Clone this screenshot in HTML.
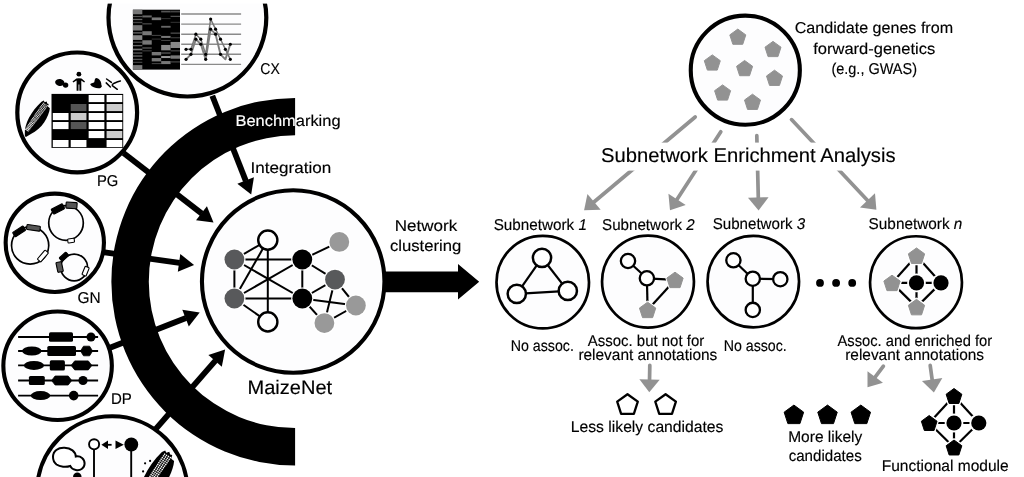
<!DOCTYPE html>
<html lang="en"><head><meta charset="utf-8"><title>MaizeNet network-assisted gene prioritization</title>
<style>html,body{margin:0;padding:0;background:#fff;}body{width:1024px;height:477px;overflow:hidden;}svg{display:block;will-change:transform;text-rendering:geometricPrecision;}text{stroke:#000;stroke-width:0.15px;}text[fill="#fff"]{stroke:#fff;}svg{font-family:"Liberation Sans",sans-serif;}</style></head><body>
<svg width="1024" height="477" viewBox="0 0 1024 477">
<rect width="1024" height="477" fill="#fff"/>
<line x1="212.3" y1="95.8" x2="245.81" y2="180.92" stroke="#000" stroke-width="5.8" stroke-linecap="butt"/>
<polygon points="251.2,194.6 237.35,183.72 253.91,177.2" fill="#000"/>
<line x1="123.5" y1="153" x2="201.87" y2="213.61" stroke="#000" stroke-width="5.8" stroke-linecap="butt"/>
<polygon points="213.5,222.6 196.03,220.34 206.92,206.26" fill="#000"/>
<line x1="103" y1="252.2" x2="179.54" y2="262.95" stroke="#000" stroke-width="5.8" stroke-linecap="butt"/>
<polygon points="194.1,265 177.81,271.7 180.29,254.07" fill="#000"/>
<line x1="110" y1="347.8" x2="186.02" y2="317.97" stroke="#000" stroke-width="5.8" stroke-linecap="butt"/>
<polygon points="199.7,312.6 188.8,326.44 182.3,309.87" fill="#000"/>
<line x1="155" y1="429.9" x2="215.44" y2="360.58" stroke="#000" stroke-width="5.8" stroke-linecap="butt"/>
<polygon points="225.1,349.5 221.82,366.81 208.4,355.11" fill="#000"/>
<defs><clipPath id="arcclip"><path d="M295.1,97.9 A183.8,183.8 0 0 0 295.1,465.5 L295.1,428.05 A146.35,146.35 0 0 1 295.1,135.35 Z"/></clipPath></defs>
<path d="M295.1,97.9 A183.8,183.8 0 0 0 295.1,465.5 L295.1,428.05 A146.35,146.35 0 0 1 295.1,135.35 Z" fill="#000"/>
<polygon points="380,271.4 458,271.4 458,264 479.2,281.8 458,299.6 458,292.2 380,292.2" fill="#000"/>
<circle cx="293.2" cy="281.5" r="91.25" fill="#fdfdfe" stroke="#000" stroke-width="4.1"/>
<line x1="267.8" y1="240.1" x2="234.4" y2="259.5" stroke="#000" stroke-width="2" />
<line x1="267.8" y1="240.1" x2="234.4" y2="298.5" stroke="#000" stroke-width="2" />
<line x1="267.8" y1="240.1" x2="267.8" y2="321.9" stroke="#000" stroke-width="2" />
<line x1="234.4" y1="259.5" x2="234.4" y2="298.5" stroke="#000" stroke-width="2" />
<line x1="234.4" y1="259.5" x2="302.3" y2="259.5" stroke="#000" stroke-width="2" />
<line x1="234.4" y1="259.5" x2="302.3" y2="298.5" stroke="#000" stroke-width="2" />
<line x1="234.4" y1="298.5" x2="302.3" y2="259.5" stroke="#000" stroke-width="2" />
<line x1="234.4" y1="298.5" x2="302.3" y2="298.5" stroke="#000" stroke-width="2" />
<line x1="234.4" y1="298.5" x2="267.8" y2="321.9" stroke="#000" stroke-width="2" />
<line x1="302.3" y1="259.5" x2="302.3" y2="298.5" stroke="#000" stroke-width="2" />
<line x1="302.3" y1="259.5" x2="339.3" y2="241.9" stroke="#000" stroke-width="2" />
<line x1="302.3" y1="259.5" x2="335" y2="279.6" stroke="#000" stroke-width="2" />
<line x1="302.3" y1="298.5" x2="335" y2="279.6" stroke="#000" stroke-width="2" />
<line x1="302.3" y1="298.5" x2="355.9" y2="305.5" stroke="#000" stroke-width="2" />
<line x1="302.3" y1="298.5" x2="324.4" y2="323.1" stroke="#000" stroke-width="2" />
<line x1="335" y1="279.6" x2="355.9" y2="305.5" stroke="#000" stroke-width="2" />
<line x1="335" y1="279.6" x2="324.4" y2="323.1" stroke="#000" stroke-width="2" />
<line x1="355.9" y1="305.5" x2="324.4" y2="323.1" stroke="#000" stroke-width="2" />
<circle cx="234.4" cy="259.5" r="11.1" fill="#fff"/>
<circle cx="234.4" cy="259.5" r="9.9" fill="#58595b"/>
<circle cx="234.4" cy="298.5" r="11.1" fill="#fff"/>
<circle cx="234.4" cy="298.5" r="9.9" fill="#58595b"/>
<circle cx="335" cy="279.6" r="11.1" fill="#fff"/>
<circle cx="335" cy="279.6" r="9.9" fill="#58595b"/>
<circle cx="302.3" cy="259.5" r="11.1" fill="#fff"/>
<circle cx="302.3" cy="259.5" r="9.9" fill="#000"/>
<circle cx="302.3" cy="298.5" r="11.1" fill="#fff"/>
<circle cx="302.3" cy="298.5" r="9.9" fill="#000"/>
<circle cx="339.3" cy="241.9" r="11.1" fill="#fff"/>
<circle cx="339.3" cy="241.9" r="9.9" fill="#999"/>
<circle cx="355.9" cy="305.5" r="11.1" fill="#fff"/>
<circle cx="355.9" cy="305.5" r="9.9" fill="#999"/>
<circle cx="324.4" cy="323.1" r="11.1" fill="#fff"/>
<circle cx="324.4" cy="323.1" r="9.9" fill="#999"/>
<circle cx="267.8" cy="240.1" r="9.6" fill="#fff" stroke="#000" stroke-width="2.4"/>
<circle cx="267.8" cy="321.9" r="9.6" fill="#fff" stroke="#000" stroke-width="2.4"/>
<circle cx="187.4" cy="17.6" r="78.9" fill="#fdfdfe" stroke="#000" stroke-width="4.2"/>
<rect x="0" y="0" width="1024" height="3.6" fill="#fff"/>
<circle cx="77.2" cy="112.4" r="59.9" fill="#fdfdfe" stroke="#000" stroke-width="4.2"/>
<circle cx="54.8" cy="242.8" r="49.15" fill="#fdfdfe" stroke="#000" stroke-width="4.1"/>
<circle cx="57.6" cy="365.8" r="54.25" fill="#fdfdfe" stroke="#000" stroke-width="4.1"/>
<circle cx="112.3" cy="491.5" r="75.25" fill="#fdfdfe" stroke="#000" stroke-width="4.1"/>
<rect x="132.9" y="9.7" width="47.1" height="59.9" fill="#000"/>
<rect x="132.9" y="9.73" width="9.42" height="4.53" fill="#777"/>
<rect x="132.9" y="15.94" width="9.42" height="1.17" fill="#555"/>
<rect x="132.9" y="18.79" width="9.42" height="1.34" fill="#666"/>
<rect x="132.9" y="21.81" width="9.42" height="1.34" fill="#444"/>
<rect x="132.9" y="25.17" width="9.42" height="5.37" fill="#777"/>
<rect x="132.9" y="32.21" width="9.42" height="1.34" fill="#666"/>
<rect x="132.9" y="35.23" width="9.42" height="4.7" fill="#888"/>
<rect x="132.9" y="41.61" width="9.42" height="1.17" fill="#555"/>
<rect x="132.9" y="44.97" width="9.42" height="1.34" fill="#666"/>
<rect x="132.9" y="48.66" width="9.42" height="1.68" fill="#777"/>
<rect x="132.9" y="52.35" width="9.42" height="1.34" fill="#555"/>
<rect x="132.9" y="55.37" width="9.42" height="1.34" fill="#666"/>
<rect x="132.9" y="58.72" width="9.42" height="1.34" fill="#555"/>
<rect x="132.9" y="61.74" width="9.42" height="1.17" fill="#444"/>
<rect x="132.9" y="65.1" width="9.42" height="4.53" fill="#777"/>
<rect x="142.32" y="15.44" width="9.42" height="2.01" fill="#666"/>
<rect x="142.32" y="23.15" width="9.42" height="1.34" fill="#444"/>
<rect x="142.32" y="31.21" width="9.42" height="4.03" fill="#777"/>
<rect x="142.32" y="40.27" width="9.42" height="4.36" fill="#777"/>
<rect x="142.32" y="47.32" width="9.42" height="1.34" fill="#555"/>
<rect x="142.32" y="50.34" width="9.42" height="1.01" fill="#444"/>
<rect x="151.74" y="17.45" width="9.42" height="2.68" fill="#777"/>
<rect x="151.74" y="34.9" width="9.42" height="1.01" fill="#444"/>
<rect x="151.74" y="38.59" width="9.42" height="1.01" fill="#333"/>
<rect x="151.74" y="52.01" width="9.42" height="3.36" fill="#777"/>
<rect x="151.74" y="58.05" width="9.42" height="3.36" fill="#777"/>
<rect x="151.74" y="63.09" width="9.42" height="1.01" fill="#444"/>
<rect x="161.16" y="10.74" width="9.42" height="1.68" fill="#555"/>
<rect x="161.16" y="18.12" width="9.42" height="1.01" fill="#333"/>
<rect x="161.16" y="25.84" width="9.42" height="1.85" fill="#666"/>
<rect x="161.16" y="35.91" width="9.42" height="2.01" fill="#777"/>
<rect x="161.16" y="39.93" width="9.42" height="1.01" fill="#444"/>
<rect x="161.16" y="44.97" width="9.42" height="5.37" fill="#888"/>
<rect x="161.16" y="52.35" width="9.42" height="1.34" fill="#555"/>
<rect x="161.16" y="56.04" width="9.42" height="2.01" fill="#999"/>
<rect x="161.16" y="61.07" width="9.42" height="3.02" fill="#777"/>
<rect x="170.58" y="10.74" width="9.42" height="1.68" fill="#444"/>
<rect x="170.58" y="15.77" width="9.42" height="1.17" fill="#555"/>
<rect x="170.58" y="21.81" width="9.42" height="1.01" fill="#333"/>
<rect x="170.58" y="32.55" width="9.42" height="1.17" fill="#555"/>
<rect x="170.58" y="37.25" width="9.42" height="1.01" fill="#444"/>
<rect x="170.58" y="41.95" width="9.42" height="6.04" fill="#888"/>
<rect x="170.58" y="50.34" width="9.42" height="1.01" fill="#555"/>
<rect x="170.58" y="55.37" width="9.42" height="3.36" fill="#777"/>
<rect x="170.58" y="61.41" width="9.42" height="1.01" fill="#555"/>
<line x1="181.2" y1="14.04" x2="241.1" y2="14.04" stroke="#8a8a8a" stroke-width="1.4" />
<line x1="181.2" y1="24.1" x2="241.1" y2="24.1" stroke="#8a8a8a" stroke-width="1.4" />
<line x1="181.2" y1="34.2" x2="241.1" y2="34.2" stroke="#8a8a8a" stroke-width="1.4" />
<line x1="181.2" y1="44.25" x2="241.1" y2="44.25" stroke="#8a8a8a" stroke-width="1.4" />
<line x1="181.2" y1="54.3" x2="241.1" y2="54.3" stroke="#8a8a8a" stroke-width="1.4" />
<line x1="181.2" y1="64.4" x2="241.1" y2="64.4" stroke="#8a8a8a" stroke-width="1.4" />
<polyline fill="none" stroke="#7d7d7d" stroke-width="1.9" stroke-linejoin="round" points="186.04,59.35 190.96,54.32 195.88,39.22 200.8,44.25 205.72,59.35 210.64,29.14 215.56,34.18 220.48,54.32 225.4,59.35 230.32,44.25"/>
<polyline fill="none" stroke="#777" stroke-width="1.5" stroke-linejoin="round" points="186.04,49.29 190.96,49.29 195.88,34.18 200.8,39.22 205.72,54.32 210.64,19.07 215.56,29.14 220.48,39.22 225.4,49.29 230.32,59.35"/>
<circle cx="186.04" cy="49.29" r="1.6" fill="#000"/>
<circle cx="190.96" cy="49.29" r="1.6" fill="#000"/>
<circle cx="195.88" cy="34.18" r="1.6" fill="#000"/>
<circle cx="200.8" cy="39.22" r="1.6" fill="#000"/>
<circle cx="205.72" cy="54.32" r="1.6" fill="#000"/>
<circle cx="210.64" cy="19.07" r="1.6" fill="#000"/>
<circle cx="215.56" cy="29.14" r="1.6" fill="#000"/>
<circle cx="220.48" cy="39.22" r="1.6" fill="#000"/>
<circle cx="225.4" cy="49.29" r="1.6" fill="#000"/>
<circle cx="230.32" cy="59.35" r="1.6" fill="#000"/>
<circle cx="186.04" cy="59.35" r="1.6" fill="#000"/>
<circle cx="190.96" cy="54.32" r="1.6" fill="#000"/>
<circle cx="195.88" cy="39.22" r="1.6" fill="#000"/>
<circle cx="200.8" cy="44.25" r="1.6" fill="#000"/>
<circle cx="205.72" cy="59.35" r="1.6" fill="#000"/>
<circle cx="210.64" cy="29.14" r="1.6" fill="#000"/>
<circle cx="215.56" cy="34.18" r="1.6" fill="#000"/>
<circle cx="220.48" cy="54.32" r="1.6" fill="#000"/>
<circle cx="230.32" cy="44.25" r="1.6" fill="#000"/>
<rect x="51.5" y="93.9" width="71.7" height="54" fill="#000"/>
<rect x="52.8" y="95" width="15.73" height="7.1" fill="#000"/>
<rect x="70.72" y="95" width="15.73" height="7.1" fill="#000"/>
<rect x="88.65" y="95" width="15.73" height="7.1" fill="#fff"/>
<rect x="106.58" y="95" width="15.73" height="7.1" fill="#fff"/>
<rect x="52.8" y="104" width="15.73" height="7.1" fill="#000"/>
<rect x="70.72" y="104" width="15.73" height="7.1" fill="#555"/>
<rect x="88.65" y="104" width="15.73" height="7.1" fill="#fff"/>
<rect x="106.58" y="104" width="15.73" height="7.1" fill="#ccc"/>
<rect x="52.8" y="113" width="15.73" height="7.1" fill="#fff"/>
<rect x="70.72" y="113" width="15.73" height="7.1" fill="#ccc"/>
<rect x="88.65" y="113" width="15.73" height="7.1" fill="#fff"/>
<rect x="106.58" y="113" width="15.73" height="7.1" fill="#fff"/>
<rect x="52.8" y="122" width="15.73" height="7.1" fill="#fff"/>
<rect x="70.72" y="122" width="15.73" height="7.1" fill="#555"/>
<rect x="88.65" y="122" width="15.73" height="7.1" fill="#fff"/>
<rect x="106.58" y="122" width="15.73" height="7.1" fill="#fff"/>
<rect x="52.8" y="131" width="15.73" height="7.1" fill="#000"/>
<rect x="70.72" y="131" width="15.73" height="7.1" fill="#000"/>
<rect x="88.65" y="131" width="15.73" height="7.1" fill="#fff"/>
<rect x="106.58" y="131" width="15.73" height="7.1" fill="#ccc"/>
<rect x="52.8" y="140" width="15.73" height="7.1" fill="#fff"/>
<rect x="70.72" y="140" width="15.73" height="7.1" fill="#fff"/>
<rect x="88.65" y="140" width="15.73" height="7.1" fill="#000"/>
<rect x="106.58" y="140" width="15.73" height="7.1" fill="#fff"/>
<ellipse cx="59.8" cy="82.5" rx="4.7" ry="3.5" fill="#000" transform="rotate(12 59.8 82.5)"/>
<circle cx="65.6" cy="85.1" r="2.7" fill="#000"/>
<circle cx="78.9" cy="74.2" r="2.4" fill="#000"/>
<path d="M72.5,81.4 L76.3,78.4 Q78.9,77.9 81.5,78.4 L85,81.4 L84.2,82.4 L81.3,80.6 L81.3,90.7 L79.4,90.7 L79.4,84.4 L78.5,84.4 L78.5,90.7 L76.6,90.7 L76.6,80.6 L73.3,82.4 Z" fill="#000"/>
<path d="M96,77.9 C99.5,78.3 101.6,81.8 101.4,85.2 L102,86 C101.4,87.6 100.2,88.3 99.4,88.3 C96.4,88.6 92,87.6 90.2,84.6 C90.8,83 93,83.2 94,82.6 C94.8,82 94.2,79 96,77.9 Z" fill="#000"/>
<g stroke="#000" stroke-width="1.5" stroke-linecap="round" fill="none"><path d="M106.6,79 L111.4,82.4"/><path d="M106.2,82.9 L110.4,87"/><path d="M112.3,85.6 L117.3,89.3"/><path d="M114.2,83.2 C116,82.4 118.4,81.4 120.4,81"/><path d="M112.4,84.3 L113.6,83.6"/></g>
<g transform="translate(36.6 119) rotate(30) scale(1.05)">
<path d="M-1.6,19.6 L-2.8,17.6 C-7.8,10 -8.2,-4 -4.2,-16.6 L-2.8,-18.6 L-1.4,-17.6 L0,-19.2 L1.4,-17.8 L2.8,-18.2 L3.4,-15.6 L5.8,-15.2 C9,-8 9.2,6 2.4,15 L-0.2,20 Z" fill="#000"/>
<path d="M-2.42,-16.69h0.94v0.94h-0.94zM-0.92,-16.63h0.94v0.94h-0.94zM0.58,-16.57h0.94v0.94h-0.94zM2.08,-16.51h0.94v0.94h-0.94zM-2.55,-15.33h0.94v0.94h-0.94zM-1.06,-15.27h0.94v0.94h-0.94zM0.44,-15.21h0.94v0.94h-0.94zM1.94,-15.15h0.94v0.94h-0.94zM-2.69,-13.97h0.94v0.94h-0.94zM-1.19,-13.91h0.94v0.94h-0.94zM0.31,-13.85h0.94v0.94h-0.94zM1.8,-13.79h0.94v0.94h-0.94zM-2.81,-12.61h0.94v0.94h-0.94zM-1.32,-12.55h0.94v0.94h-0.94zM0.17,-12.49h0.94v0.94h-0.94zM1.66,-12.43h0.94v0.94h-0.94zM-2.94,-11.25h0.94v0.94h-0.94zM-1.45,-11.19h0.94v0.94h-0.94zM0.03,-11.13h0.94v0.94h-0.94zM1.51,-11.07h0.94v0.94h-0.94zM-3.06,-9.89h0.94v0.94h-0.94zM-1.59,-9.83h0.94v0.94h-0.94zM-0.11,-9.77h0.94v0.94h-0.94zM1.36,-9.71h0.94v0.94h-0.94zM-3.17,-8.53h0.94v0.94h-0.94zM-1.72,-8.47h0.94v0.94h-0.94zM-0.26,-8.41h0.94v0.94h-0.94zM1.2,-8.35h0.94v0.94h-0.94zM-3.29,-7.17h0.94v0.94h-0.94zM-1.84,-7.11h0.94v0.94h-0.94zM-0.4,-7.05h0.94v0.94h-0.94zM1.04,-6.99h0.94v0.94h-0.94zM-3.4,-5.81h0.94v0.94h-0.94zM-1.97,-5.75h0.94v0.94h-0.94zM-0.54,-5.69h0.94v0.94h-0.94zM0.88,-5.63h0.94v0.94h-0.94zM-3.51,-4.45h0.94v0.94h-0.94zM-2.1,-4.39h0.94v0.94h-0.94zM-0.69,-4.33h0.94v0.94h-0.94zM0.72,-4.27h0.94v0.94h-0.94zM-3.61,-3.09h0.94v0.94h-0.94zM-2.22,-3.03h0.94v0.94h-0.94zM-0.84,-2.97h0.94v0.94h-0.94zM0.55,-2.91h0.94v0.94h-0.94zM-3.71,-1.73h0.94v0.94h-0.94zM-2.35,-1.67h0.94v0.94h-0.94zM-0.98,-1.61h0.94v0.94h-0.94zM0.38,-1.55h0.94v0.94h-0.94zM-3.81,-0.37h0.94v0.94h-0.94zM-2.47,-0.31h0.94v0.94h-0.94zM-1.13,-0.25h0.94v0.94h-0.94zM0.2,-0.19h0.94v0.94h-0.94zM-3.9,0.99h0.94v0.94h-0.94zM-2.59,1.05h0.94v0.94h-0.94zM-1.28,1.11h0.94v0.94h-0.94zM0.03,1.17h0.94v0.94h-0.94zM-3.99,2.35h0.94v0.94h-0.94zM-2.71,2.41h0.94v0.94h-0.94zM-1.43,2.47h0.94v0.94h-0.94zM-0.16,2.53h0.94v0.94h-0.94zM-4.08,3.71h0.94v0.94h-0.94zM-2.83,3.77h0.94v0.94h-0.94zM-1.59,3.83h0.94v0.94h-0.94zM-0.34,3.89h0.94v0.94h-0.94zM-4.16,5.07h0.94v0.94h-0.94zM-2.95,5.13h0.94v0.94h-0.94zM-1.74,5.19h0.94v0.94h-0.94zM-0.53,5.25h0.94v0.94h-0.94zM-4.24,6.43h0.94v0.94h-0.94zM-3.07,6.49h0.94v0.94h-0.94zM-1.9,6.55h0.94v0.94h-0.94zM-0.72,6.61h0.94v0.94h-0.94zM-4.32,7.79h0.94v0.94h-0.94zM-3.18,7.85h0.94v0.94h-0.94zM-2.05,7.91h0.94v0.94h-0.94zM-0.92,7.97h0.94v0.94h-0.94zM-4.39,9.15h0.94v0.94h-0.94zM-3.3,9.21h0.94v0.94h-0.94zM-2.21,9.27h0.94v0.94h-0.94zM-1.12,9.33h0.94v0.94h-0.94zM-4.46,10.51h0.94v0.94h-0.94zM-3.41,10.57h0.94v0.94h-0.94zM-2.37,10.63h0.94v0.94h-0.94zM-1.32,10.69h0.94v0.94h-0.94zM-4.53,11.87h0.94v0.94h-0.94zM-3.53,11.93h0.94v0.94h-0.94zM-2.53,11.99h0.94v0.94h-0.94zM-1.52,12.05h0.94v0.94h-0.94zM-4.59,13.23h0.94v0.94h-0.94zM-3.64,13.29h0.94v0.94h-0.94zM-2.69,13.35h0.94v0.94h-0.94zM-1.73,13.41h0.94v0.94h-0.94z" fill="#fff"/>
</g>
<g transform="translate(155.6 477) rotate(28.4) scale(1.5)">
<path d="M-1.6,19.6 L-2.8,17.6 C-7.8,10 -8.2,-4 -4.2,-16.6 L-2.8,-18.6 L-1.4,-17.6 L0,-19.2 L1.4,-17.8 L2.8,-18.2 L3.4,-15.6 L5.8,-15.2 C9,-8 9.2,6 2.4,15 L-0.2,20 Z" fill="#000"/>
<path d="M-2.42,-16.69h0.94v0.94h-0.94zM-0.92,-16.63h0.94v0.94h-0.94zM0.58,-16.57h0.94v0.94h-0.94zM2.08,-16.51h0.94v0.94h-0.94zM-2.55,-15.33h0.94v0.94h-0.94zM-1.06,-15.27h0.94v0.94h-0.94zM0.44,-15.21h0.94v0.94h-0.94zM1.94,-15.15h0.94v0.94h-0.94zM-2.69,-13.97h0.94v0.94h-0.94zM-1.19,-13.91h0.94v0.94h-0.94zM0.31,-13.85h0.94v0.94h-0.94zM1.8,-13.79h0.94v0.94h-0.94zM-2.81,-12.61h0.94v0.94h-0.94zM-1.32,-12.55h0.94v0.94h-0.94zM0.17,-12.49h0.94v0.94h-0.94zM1.66,-12.43h0.94v0.94h-0.94zM-2.94,-11.25h0.94v0.94h-0.94zM-1.45,-11.19h0.94v0.94h-0.94zM0.03,-11.13h0.94v0.94h-0.94zM1.51,-11.07h0.94v0.94h-0.94zM-3.06,-9.89h0.94v0.94h-0.94zM-1.59,-9.83h0.94v0.94h-0.94zM-0.11,-9.77h0.94v0.94h-0.94zM1.36,-9.71h0.94v0.94h-0.94zM-3.17,-8.53h0.94v0.94h-0.94zM-1.72,-8.47h0.94v0.94h-0.94zM-0.26,-8.41h0.94v0.94h-0.94zM1.2,-8.35h0.94v0.94h-0.94zM-3.29,-7.17h0.94v0.94h-0.94zM-1.84,-7.11h0.94v0.94h-0.94zM-0.4,-7.05h0.94v0.94h-0.94zM1.04,-6.99h0.94v0.94h-0.94zM-3.4,-5.81h0.94v0.94h-0.94zM-1.97,-5.75h0.94v0.94h-0.94zM-0.54,-5.69h0.94v0.94h-0.94zM0.88,-5.63h0.94v0.94h-0.94zM-3.51,-4.45h0.94v0.94h-0.94zM-2.1,-4.39h0.94v0.94h-0.94zM-0.69,-4.33h0.94v0.94h-0.94zM0.72,-4.27h0.94v0.94h-0.94zM-3.61,-3.09h0.94v0.94h-0.94zM-2.22,-3.03h0.94v0.94h-0.94zM-0.84,-2.97h0.94v0.94h-0.94zM0.55,-2.91h0.94v0.94h-0.94zM-3.71,-1.73h0.94v0.94h-0.94zM-2.35,-1.67h0.94v0.94h-0.94zM-0.98,-1.61h0.94v0.94h-0.94zM0.38,-1.55h0.94v0.94h-0.94zM-3.81,-0.37h0.94v0.94h-0.94zM-2.47,-0.31h0.94v0.94h-0.94zM-1.13,-0.25h0.94v0.94h-0.94zM0.2,-0.19h0.94v0.94h-0.94zM-3.9,0.99h0.94v0.94h-0.94zM-2.59,1.05h0.94v0.94h-0.94zM-1.28,1.11h0.94v0.94h-0.94zM0.03,1.17h0.94v0.94h-0.94zM-3.99,2.35h0.94v0.94h-0.94zM-2.71,2.41h0.94v0.94h-0.94zM-1.43,2.47h0.94v0.94h-0.94zM-0.16,2.53h0.94v0.94h-0.94zM-4.08,3.71h0.94v0.94h-0.94zM-2.83,3.77h0.94v0.94h-0.94zM-1.59,3.83h0.94v0.94h-0.94zM-0.34,3.89h0.94v0.94h-0.94z" fill="#fff"/>
</g>
<circle cx="150.1" cy="460.9" r="1.1" fill="#000"/>
<circle cx="145.1" cy="463.3" r="1.1" fill="#000"/>
<circle cx="143.1" cy="471.4" r="1.1" fill="#000"/>
<circle cx="66.01" cy="223" r="17.3" fill="none" stroke="#000" stroke-width="1.7"/>
<circle cx="30.14" cy="245.45" r="18.6" fill="none" stroke="#000" stroke-width="1.7"/>
<circle cx="74.15" cy="267.45" r="13.4" fill="none" stroke="#000" stroke-width="1.7"/>
<rect x="-6.25" y="-2.8" width="12.5" height="5.6" rx="0.8" fill="#000" stroke="#000" stroke-width="1.1" transform="translate(57.87 208.92) rotate(-27)"/>
<rect x="-5.5" y="-3.1" width="11" height="6.2" rx="0.8" fill="#555" stroke="#000" stroke-width="1.1" transform="translate(71.51 205.4) rotate(4)"/>
<rect x="-3.3" y="-2" width="6.6" height="4" rx="0.8" fill="#fff" stroke="#000" stroke-width="1.1" transform="translate(71.07 240.61) rotate(-8)"/>
<rect x="-6.25" y="-2.6" width="12.5" height="5.2" rx="0.8" fill="#000" stroke="#000" stroke-width="1.1" transform="translate(19.14 231.36) rotate(-33)"/>
<rect x="-6.75" y="-2.5" width="13.5" height="5" rx="0.8" fill="#555" stroke="#000" stroke-width="1.1" transform="translate(33.44 227.84) rotate(8)"/>
<rect x="-6" y="-2.3" width="12" height="4.6" rx="0.8" fill="#fff" stroke="#000" stroke-width="1.1" transform="translate(42.9 256.01) rotate(-50)"/>
<rect x="-4.5" y="-2.3" width="9" height="4.6" rx="0.8" fill="#000" stroke="#000" stroke-width="1.1" transform="translate(64.03 256.67) rotate(-42)"/>
<rect x="-2.8" y="-5" width="5.6" height="10" rx="0.8" fill="#555" stroke="#000" stroke-width="1.1" transform="translate(59.63 267.01) rotate(-12)"/>
<rect x="-2.2" y="-4.5" width="4.4" height="9" rx="0.8" fill="#fff" stroke="#000" stroke-width="1.1" transform="translate(85.59 271.19) rotate(22)"/>
<line x1="18.1" y1="337" x2="98.1" y2="337" stroke="#000" stroke-width="1.8" />
<line x1="18.1" y1="351" x2="98.1" y2="351" stroke="#000" stroke-width="1.8" />
<line x1="18.1" y1="365.4" x2="98.1" y2="365.4" stroke="#000" stroke-width="1.8" />
<line x1="18.1" y1="380.5" x2="98.1" y2="380.5" stroke="#000" stroke-width="1.8" />
<line x1="18.1" y1="395.6" x2="98.1" y2="395.6" stroke="#000" stroke-width="1.8" />
<rect x="49" y="332.25" width="24" height="9.5" rx="1.6" fill="#000"/>
<circle cx="91" cy="337" r="4.5" fill="#000"/>
<ellipse cx="31.8" cy="351" rx="9.7" ry="4.5" fill="#000"/>
<rect x="47.3" y="346" width="28.7" height="10" rx="1.6" fill="#000"/>
<polygon points="80.5,351 83.5,346.2 89.6,346.2 92.6,351 89.6,355.8 83.5,355.8" fill="#000" stroke="#000" stroke-width="0.8" stroke-linejoin="round"/>
<ellipse cx="33.95" cy="365.4" rx="10.05" ry="4.5" fill="#000"/>
<rect x="49.8" y="360.3" width="15.1" height="10.2" rx="1.6" fill="#000"/>
<polygon points="71.2,365.4 74.7,360.9 88.3,360.9 91.8,365.4 88.3,369.9 74.7,369.9" fill="#000" stroke="#000" stroke-width="0.8" stroke-linejoin="round"/>
<rect x="28.9" y="376" width="15.9" height="9" rx="1.6" fill="#000"/>
<polygon points="51.6,380.5 55.1,376 68.2,376 71.7,380.5 68.2,385 55.1,385" fill="#000" stroke="#000" stroke-width="0.8" stroke-linejoin="round"/>
<circle cx="83" cy="380.5" r="4.6" fill="#000"/>
<ellipse cx="40.5" cy="395.6" rx="9.8" ry="4.5" fill="#000"/>
<circle cx="73.7" cy="395.6" r="4.8" fill="#000"/>
<line x1="94" y1="449" x2="94" y2="477" stroke="#000" stroke-width="1.9" />
<line x1="131.2" y1="449" x2="131.2" y2="477" stroke="#000" stroke-width="1.9" />
<circle cx="94.1" cy="444.3" r="5.05" fill="#fff" stroke="#000" stroke-width="1.9"/>
<circle cx="131.3" cy="444.5" r="6.9" fill="#000"/>
<polygon points="101.4,444.8 108,440.6 108,449" fill="#000"/>
<line x1="107.5" y1="444.8" x2="111.6" y2="444.8" stroke="#000" stroke-width="1.8" />
<polygon points="123.8,444.8 115.5,440.6 115.5,449" fill="#000"/>
<g fill="#fff" stroke="#000" stroke-width="2"><path d="M53,457 C53,451 58,447.5 64.5,447.8 C71,448 75.5,451.5 75.8,456.5 C80.5,455.5 84.8,459 84.6,463.8 C84.4,468.5 80,471 75.8,470 C73,469.5 71,467.8 70.3,466 C66,467.5 60,467 56.5,464.5 C54,462.5 53,460 53,457 Z"/></g>
<circle cx="77.3" cy="476.6" r="4.2" fill="#000"/>
<line x1="695.2" y1="117" x2="593.67" y2="202.26" stroke="#929292" stroke-width="3.7" stroke-linecap="round"/>
<polygon points="584.1,210.3 587.43,194.05 600.68,209.83" fill="#929292"/>
<line x1="720.8" y1="131.8" x2="676.79" y2="199.81" stroke="#929292" stroke-width="3.7" stroke-linecap="round"/>
<polygon points="670,210.3 668.42,193.79 685.71,204.98" fill="#929292"/>
<line x1="756.8" y1="135.6" x2="758.3" y2="197.9" stroke="#929292" stroke-width="3.7" stroke-linecap="round"/>
<polygon points="758.6,210.4 747.99,197.65 768.58,197.16" fill="#929292"/>
<line x1="791.5" y1="119.6" x2="867.83" y2="200.7" stroke="#929292" stroke-width="3.7" stroke-linecap="round"/>
<polygon points="876.4,209.8 859.99,207.39 874.99,193.27" fill="#929292"/>
<rect x="598" y="142.6" width="302" height="28" fill="#fff"/>
<circle cx="745.3" cy="70.2" r="54.55" fill="#fdfdfe" stroke="#000" stroke-width="4.1"/>
<polygon points="737.8,29.09 745.8,34.9 742.74,44.31 732.86,44.31 729.8,34.9" fill="#929292" stroke="#929292" stroke-width="1" stroke-linejoin="round"/>
<polygon points="773,41.39 781,47.2 777.94,56.61 768.06,56.61 765,47.2" fill="#929292" stroke="#929292" stroke-width="1" stroke-linejoin="round"/>
<polygon points="712.3,54.89 720.3,60.7 717.24,70.11 707.36,70.11 704.3,60.7" fill="#929292" stroke="#929292" stroke-width="1" stroke-linejoin="round"/>
<polygon points="744.6,60.49 752.6,66.3 749.54,75.71 739.66,75.71 736.6,66.3" fill="#929292" stroke="#929292" stroke-width="1" stroke-linejoin="round"/>
<polygon points="774.5,70.19 782.5,76 779.44,85.41 769.56,85.41 766.5,76" fill="#929292" stroke="#929292" stroke-width="1" stroke-linejoin="round"/>
<polygon points="722.6,84.89 730.6,90.7 727.54,100.11 717.66,100.11 714.6,90.7" fill="#929292" stroke="#929292" stroke-width="1" stroke-linejoin="round"/>
<polygon points="752.5,94.19 760.5,100 757.44,109.41 747.56,109.41 744.5,100" fill="#929292" stroke="#929292" stroke-width="1" stroke-linejoin="round"/>
<circle cx="542.75" cy="282.2" r="46.25" fill="#fdfdfe" stroke="#000" stroke-width="2.7"/>
<line x1="542" y1="257.8" x2="516.8" y2="293.8" stroke="#000" stroke-width="2.2" />
<line x1="542" y1="257.8" x2="567.8" y2="290.9" stroke="#000" stroke-width="2.2" />
<line x1="516.8" y1="293.8" x2="567.8" y2="290.9" stroke="#000" stroke-width="2.2" />
<circle cx="542" cy="257.8" r="9.15" fill="#fff" stroke="#000" stroke-width="2.5"/>
<circle cx="516.8" cy="293.8" r="9.15" fill="#fff" stroke="#000" stroke-width="2.5"/>
<circle cx="567.8" cy="290.9" r="9.15" fill="#fff" stroke="#000" stroke-width="2.5"/>
<circle cx="648" cy="281.6" r="45.95" fill="#fdfdfe" stroke="#000" stroke-width="2.7"/>
<line x1="628" y1="261" x2="646.9" y2="278.3" stroke="#000" stroke-width="2.2" />
<line x1="646.9" y1="278.3" x2="675" y2="279.9" stroke="#000" stroke-width="2.2" />
<line x1="646.9" y1="278.3" x2="647.6" y2="309.9" stroke="#000" stroke-width="2.2" />
<line x1="647.6" y1="309.9" x2="675" y2="279.9" stroke="#000" stroke-width="2.2" />
<polygon points="675,272.15 683.15,278.07 680.04,287.65 669.96,287.65 666.85,278.07" fill="#fff" stroke="#fff" stroke-width="3.0" stroke-linejoin="round"/>
<polygon points="675,272.15 683.15,278.07 680.04,287.65 669.96,287.65 666.85,278.07" fill="#929292" stroke="#929292" stroke-width="1" stroke-linejoin="round"/>
<polygon points="647.6,302.15 655.75,308.07 652.64,317.65 642.56,317.65 639.45,308.07" fill="#fff" stroke="#fff" stroke-width="3.0" stroke-linejoin="round"/>
<polygon points="647.6,302.15 655.75,308.07 652.64,317.65 642.56,317.65 639.45,308.07" fill="#929292" stroke="#929292" stroke-width="1" stroke-linejoin="round"/>
<circle cx="628" cy="261" r="7.15" fill="#fff" stroke="#000" stroke-width="2.3"/>
<circle cx="646.9" cy="278.3" r="7.15" fill="#fff" stroke="#000" stroke-width="2.3"/>
<circle cx="753.3" cy="281.6" r="45.75" fill="#fdfdfe" stroke="#000" stroke-width="2.7"/>
<line x1="752.8" y1="278.7" x2="733.4" y2="260.3" stroke="#000" stroke-width="2.2" />
<line x1="752.8" y1="278.7" x2="780.3" y2="279.2" stroke="#000" stroke-width="2.2" />
<line x1="752.8" y1="278.7" x2="752.8" y2="309.9" stroke="#000" stroke-width="2.2" />
<circle cx="752.8" cy="278.7" r="7.15" fill="#fff" stroke="#000" stroke-width="2.3"/>
<circle cx="733.4" cy="260.3" r="7.15" fill="#fff" stroke="#000" stroke-width="2.3"/>
<circle cx="780.3" cy="279.2" r="7.15" fill="#fff" stroke="#000" stroke-width="2.3"/>
<circle cx="752.8" cy="309.9" r="7.15" fill="#fff" stroke="#000" stroke-width="2.3"/>
<circle cx="820" cy="282.9" r="3.9" fill="#000"/>
<circle cx="836.1" cy="282.9" r="3.9" fill="#000"/>
<circle cx="852.2" cy="282.9" r="3.9" fill="#000"/>
<circle cx="916" cy="282.2" r="45.95" fill="#fdfdfe" stroke="#000" stroke-width="2.7"/>
<line x1="916.5" y1="255.7" x2="892" y2="282.9" stroke="#000" stroke-width="2.2" />
<line x1="916.5" y1="255.7" x2="941" y2="282.9" stroke="#000" stroke-width="2.2" />
<line x1="892" y1="282.9" x2="916.5" y2="307.1" stroke="#000" stroke-width="2.2" />
<line x1="916.5" y1="307.1" x2="941" y2="282.9" stroke="#000" stroke-width="2.2" />
<line x1="916.5" y1="255.7" x2="916.5" y2="307.1" stroke="#000" stroke-width="2.2" />
<line x1="892" y1="282.9" x2="941" y2="282.9" stroke="#000" stroke-width="2.2" />
<polygon points="916.5,247.95 924.65,253.87 921.54,263.45 911.46,263.45 908.35,253.87" fill="#fff" stroke="#fff" stroke-width="3.6" stroke-linejoin="round"/>
<polygon points="916.5,247.95 924.65,253.87 921.54,263.45 911.46,263.45 908.35,253.87" fill="#929292" stroke="#929292" stroke-width="1" stroke-linejoin="round"/>
<polygon points="892,275.15 900.15,281.07 897.04,290.65 886.96,290.65 883.85,281.07" fill="#fff" stroke="#fff" stroke-width="3.6" stroke-linejoin="round"/>
<polygon points="892,275.15 900.15,281.07 897.04,290.65 886.96,290.65 883.85,281.07" fill="#929292" stroke="#929292" stroke-width="1" stroke-linejoin="round"/>
<polygon points="916.5,299.35 924.65,305.27 921.54,314.85 911.46,314.85 908.35,305.27" fill="#fff" stroke="#fff" stroke-width="3.6" stroke-linejoin="round"/>
<polygon points="916.5,299.35 924.65,305.27 921.54,314.85 911.46,314.85 908.35,305.27" fill="#929292" stroke="#929292" stroke-width="1" stroke-linejoin="round"/>
<circle cx="916.5" cy="282.9" r="9.4" fill="#fff"/>
<circle cx="916.5" cy="282.9" r="7.6" fill="#000"/>
<circle cx="941" cy="282.9" r="9.4" fill="#fff"/>
<circle cx="941" cy="282.9" r="7.6" fill="#000"/>
<line x1="649.8" y1="365.4" x2="649.53" y2="380" stroke="#929292" stroke-width="3.7" stroke-linecap="round"/>
<polygon points="649.3,392.3 639.39,379.31 659.69,379.69" fill="#929292"/>
<polygon points="627.5,394.2 637.8,401.69 633.87,413.8 621.13,413.8 617.2,401.69" fill="#fff" stroke="#000" stroke-width="2.3" stroke-linejoin="round"/>
<polygon points="665.6,394.2 675.9,401.69 671.97,413.8 659.23,413.8 655.3,401.69" fill="#fff" stroke="#000" stroke-width="2.3" stroke-linejoin="round"/>
<line x1="883.4" y1="366.2" x2="874.92" y2="377.39" stroke="#929292" stroke-width="3.7" stroke-linecap="round"/>
<polygon points="867.5,387.2 867.49,371.14 882.96,382.85" fill="#929292"/>
<line x1="930.2" y1="365.4" x2="932.2" y2="380.02" stroke="#929292" stroke-width="3.7" stroke-linecap="round"/>
<polygon points="933.9,392.4 921.93,380.92 942.34,378.12" fill="#929292"/>
<polygon points="793.9,405.08 803.65,412.16 799.93,423.62 787.87,423.62 784.15,412.16" fill="#000" stroke="#000" stroke-width="1" stroke-linejoin="round"/>
<polygon points="827.5,405.08 837.25,412.16 833.53,423.62 821.47,423.62 817.75,412.16" fill="#000" stroke="#000" stroke-width="1" stroke-linejoin="round"/>
<polygon points="860.8,405.08 870.55,412.16 866.83,423.62 854.77,423.62 851.05,412.16" fill="#000" stroke="#000" stroke-width="1" stroke-linejoin="round"/>
<line x1="954" y1="396" x2="929.2" y2="423" stroke="#000" stroke-width="2.2" />
<line x1="954" y1="396" x2="978.8" y2="423" stroke="#000" stroke-width="2.2" />
<line x1="929.2" y1="423" x2="954" y2="447.5" stroke="#000" stroke-width="2.2" />
<line x1="954" y1="447.5" x2="978.8" y2="423" stroke="#000" stroke-width="2.2" />
<line x1="954" y1="396" x2="954" y2="447.5" stroke="#000" stroke-width="2.2" />
<line x1="929.2" y1="423" x2="978.8" y2="423" stroke="#000" stroke-width="2.2" />
<polygon points="954,388.53 961.85,394.24 958.85,403.47 949.15,403.47 946.15,394.24" fill="#fff" stroke="#fff" stroke-width="3.6" stroke-linejoin="round"/>
<polygon points="954,388.53 961.85,394.24 958.85,403.47 949.15,403.47 946.15,394.24" fill="#000" stroke="#000" stroke-width="1" stroke-linejoin="round"/>
<polygon points="929.2,415.53 937.05,421.24 934.05,430.47 924.35,430.47 921.35,421.24" fill="#fff" stroke="#fff" stroke-width="3.6" stroke-linejoin="round"/>
<polygon points="929.2,415.53 937.05,421.24 934.05,430.47 924.35,430.47 921.35,421.24" fill="#000" stroke="#000" stroke-width="1" stroke-linejoin="round"/>
<polygon points="954,440.03 961.85,445.74 958.85,454.97 949.15,454.97 946.15,445.74" fill="#fff" stroke="#fff" stroke-width="3.6" stroke-linejoin="round"/>
<polygon points="954,440.03 961.85,445.74 958.85,454.97 949.15,454.97 946.15,445.74" fill="#000" stroke="#000" stroke-width="1" stroke-linejoin="round"/>
<circle cx="954" cy="423" r="9.4" fill="#fff"/>
<circle cx="954" cy="423" r="7.6" fill="#000"/>
<circle cx="978.8" cy="423" r="9.4" fill="#fff"/>
<circle cx="978.8" cy="423" r="7.6" fill="#000"/>
<text x="260.26" y="74.1" font-size="15.7" fill="#000" textLength="19.5" lengthAdjust="spacingAndGlyphs">CX</text>
<text x="96.91" y="186.2" font-size="15.7" fill="#000" textLength="21.33" lengthAdjust="spacingAndGlyphs">PG</text>
<text x="77.59" y="302.9" font-size="15.7" fill="#000" textLength="23.16" lengthAdjust="spacingAndGlyphs">GN</text>
<text x="110.89" y="403.6" font-size="15.7" fill="#000" textLength="20.86" lengthAdjust="spacingAndGlyphs">DP</text>
<text x="235.42" y="125.6" font-size="15.7" fill="#000" textLength="105.16" lengthAdjust="spacingAndGlyphs">Benchmarking</text>
<g clip-path="url(#arcclip)"><text x="235.42" y="125.6" font-size="15.7" fill="#fff" textLength="105.16" lengthAdjust="spacingAndGlyphs">Benchmarking</text></g>
<text x="250.6" y="172.9" font-size="15.7" fill="#000" textLength="80.59" lengthAdjust="spacingAndGlyphs">Integration</text>
<text x="247.54" y="393.8" font-size="19.6" fill="#000" textLength="84.6" lengthAdjust="spacingAndGlyphs">MaizeNet</text>
<text x="394.75" y="231.2" font-size="15.7" fill="#000" textLength="62.4" lengthAdjust="spacingAndGlyphs">Network</text>
<text x="389.98" y="251.1" font-size="15.7" fill="#000" textLength="71.33" lengthAdjust="spacingAndGlyphs">clustering</text>
<text x="601.04" y="161.9" font-size="20" fill="#000" textLength="294.51" lengthAdjust="spacingAndGlyphs">Subnetwork Enrichment Analysis</text>
<text x="794.7" y="33.2" font-size="15.7" fill="#000" textLength="158.4" lengthAdjust="spacingAndGlyphs">Candidate genes from</text>
<text x="813.25" y="53.9" font-size="15.7" fill="#000" textLength="121.98" lengthAdjust="spacingAndGlyphs">forward-genetics</text>
<text x="831.4" y="74.2" font-size="15.7" fill="#000" textLength="85.6" lengthAdjust="spacingAndGlyphs">(e.g., GWAS)</text>
<text x="493.64" y="230.2" font-size="15.7" fill="#000" textLength="93.3" lengthAdjust="spacingAndGlyphs">Subnetwork <tspan font-style="italic">1</tspan></text>
<text x="602.06" y="230.2" font-size="15.7" fill="#000" textLength="92.69" lengthAdjust="spacingAndGlyphs">Subnetwork <tspan font-style="italic">2</tspan></text>
<text x="712.64" y="228.5" font-size="15.7" fill="#000" textLength="92.58" lengthAdjust="spacingAndGlyphs">Subnetwork <tspan font-style="italic">3</tspan></text>
<text x="868.6" y="228.5" font-size="15.7" fill="#000" textLength="93.8" lengthAdjust="spacingAndGlyphs">Subnetwork <tspan font-style="italic">n</tspan></text>
<text x="510.75" y="350.9" font-size="15.7" fill="#000" textLength="63.13" lengthAdjust="spacingAndGlyphs">No assoc.</text>
<text x="723.72" y="350.9" font-size="15.7" fill="#000" textLength="63.07" lengthAdjust="spacingAndGlyphs">No assoc.</text>
<text x="587.79" y="346.2" font-size="15.7" fill="#000" textLength="116.41" lengthAdjust="spacingAndGlyphs">Assoc. but not for</text>
<text x="578.38" y="360.3" font-size="15.7" fill="#000" textLength="138.9" lengthAdjust="spacingAndGlyphs">relevant annotations</text>
<text x="837.57" y="345.5" font-size="15.7" fill="#000" textLength="154.51" lengthAdjust="spacingAndGlyphs">Assoc. and enriched for</text>
<text x="845.19" y="359.8" font-size="15.7" fill="#000" textLength="138.9" lengthAdjust="spacingAndGlyphs">relevant annotations</text>
<text x="570.83" y="431.9" font-size="15.7" fill="#000" textLength="152.59" lengthAdjust="spacingAndGlyphs">Less likely candidates</text>
<text x="788.21" y="442.3" font-size="15.7" fill="#000" textLength="74.06" lengthAdjust="spacingAndGlyphs">More likely</text>
<text x="788.64" y="460.5" font-size="15.7" fill="#000" textLength="73.15" lengthAdjust="spacingAndGlyphs">candidates</text>
<text x="881.75" y="471" font-size="15.7" fill="#000" textLength="126.92" lengthAdjust="spacingAndGlyphs">Functional module</text>
</svg></body></html>
